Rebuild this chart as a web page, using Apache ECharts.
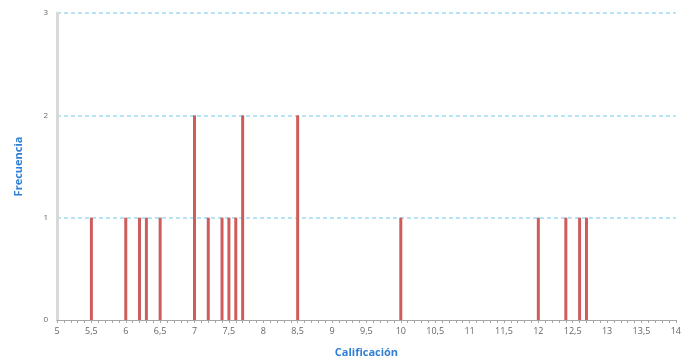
<!DOCTYPE html>
<html>
<head>
<meta charset="UTF-8">
<title></title>
<script src="https://cdn.jsdelivr.net/npm/echarts@6/dist/echarts.min.js"></script>
<style>
  html, body { margin: 0; padding: 0; background: #fff; }
</style>
</head>
<body>
<div id="main" style="width: 684px;height:363px;"></div>
<script type="text/javascript">
// calificaciones y su frecuencia
var calificaciones = [5.5, 6, 6.2, 6.3, 6.5, 7, 7.2, 7.4, 7.5, 7.6, 7.7, 8.5, 10, 12, 12.4, 12.6, 12.7];
var frecuencias = [1, 1, 1, 1, 1, 2, 1, 1, 1, 1, 2, 2, 1, 1, 1, 1, 1];
var yTicks = [0, 1, 2, 3];

var data = [];
for (var i = 0; i < calificaciones.length; i++) {
  data.push([calificaciones[i], frecuencias[i]]);
}

var option = {
  animation: false,
  grid: { left: 57, right: 7, top: 13, bottom: 42 },
  xAxis: {
    type: 'value',
    min: 5,
    max: 14,
    interval: 0.5,
    name: 'Calificación',
    nameLocation: 'middle',
    nameGap: 27,
    nameTextStyle: { color: '#2f7fd6', fontWeight: 'bold', fontSize: 11, fontFamily: 'Open Sans' },
    axisLine: { lineStyle: { color: '#a6a6a6', width: 1 } },
    axisTick: { show: true, length: 3, lineStyle: { color: '#a6a6a6' } },
    minorTick: { show: true, splitNumber: 5, length: 3, lineStyle: { color: '#a6a6a6' } },
    axisLabel: {
      color: '#666', fontSize: 9, fontFamily: 'Open Sans', margin: 7,
      formatter: function (v) { return String(v).replace('.', ','); }
    },
    splitLine: { show: false }
  },
  yAxis: {
    type: 'value',
    min: 0,
    max: 3,
    interval: 1,
    name: 'Frecuencia',
    nameLocation: 'middle',
    nameGap: 33,
    nameRotate: 90,
    nameTextStyle: { color: '#2f7fd6', fontWeight: 'bold', fontSize: 11, fontFamily: 'Open Sans' },
    axisLine: { show: true, lineStyle: { color: '#d9d9d9', width: 3 } },
    axisTick: { show: false },
    axisLabel: {
      color: '#666', fontSize: 8, fontFamily: 'Open Sans', margin: 9,
      formatter: function (v) { return yTicks.indexOf(v) >= 0 ? String(v) : ''; }
    },
    splitLine: { show: true, showMinLine: false, lineStyle: { color: '#9fdcf2', type: [4, 3], width: 1.5 } }
  },
  series: [{
    type: 'bar',
    data: data,
    barWidth: 3,
    itemStyle: { color: '#cd5c5a' }
  }]
};

echarts.init(document.getElementById('main')).setOption(option);
</script>
</body>
</html>
